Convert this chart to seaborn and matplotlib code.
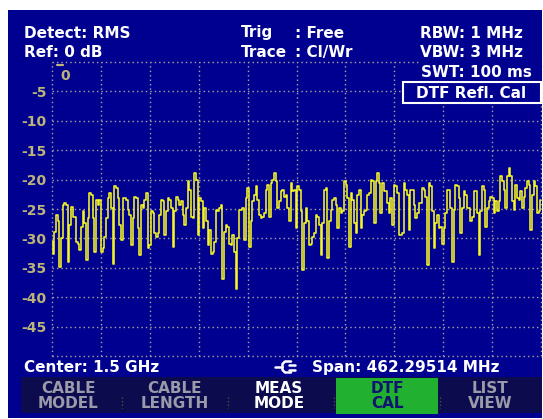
import numpy as np
import pandas as pd
import matplotlib
matplotlib.use("Agg")
import matplotlib.pyplot as plt
import seaborn as sns
from matplotlib.patches import Rectangle
from matplotlib.lines import Line2D

# ---------------- data ----------------
center_mhz = 1500.0
span_mhz = 462.29514
y_ticks = [-50, -45, -40, -35, -30, -25, -20, -15, -10, -5, 0]
y_tick_labels = ["", "-45", "-40", "-35", "-30", "-25", "-20", "-15", "-10", "-5", ""]

level_part1 = [-30.6, -32.6, -28.9, -26.0, -27.1, -34.9, -30.0, -24.3, -24.0, -24.3,
               -34.0, -27.7, -24.6, -26.3, -26.3, -30.6, -30.9, -32.0, -28.0, -25.4,
               -27.4, -33.7, -26.6, -22.3, -22.6, -26.6, -32.3, -23.4, -24.3, -23.4,
               -32.3, -31.7, -29.7, -26.6, -23.1, -22.3, -24.9, -34.3, -21.1, -21.4,
               -23.1, -27.7, -30.3, -23.1, -23.1, -23.4, -25.1, -26.0, -31.1, -26.6,
               -22.9, -23.1, -28.3, -32.9, -24.3, -24.9, -23.4, -22.3]
level_part2 = [-31.7, -31.1, -25.4, -25.7, -29.1, -29.7, -29.1, -26.0, -23.4, -23.7,
               -29.4, -25.4, -23.1, -23.4, -24.9, -31.4, -25.4, -22.9, -23.4, -24.3,
               -23.7, -26.0, -27.7, -24.9, -20.3, -21.7, -26.3, -26.6, -18.9, -20.0,
               -29.4, -23.1, -23.7, -28.3, -24.9, -27.1, -31.1, -28.6, -32.6, -32.3,
               -30.6, -25.1, -25.4, -24.9, -24.3, -36.9, -28.9, -27.7, -28.0, -30.9,
               -31.1, -29.4, -32.3, -38.6, -30.0, -25.1, -25.1, -24.9, -30.3]
level_part3 = [-23.1, -21.4, -31.4, -27.1, -23.7, -22.6, -21.1, -23.4, -26.0, -26.6,
               -26.3, -25.7, -21.7, -20.9, -26.3, -20.6, -20.0, -18.9, -20.3, -24.9,
               -23.7, -22.0, -21.7, -22.9, -22.6, -24.9, -27.1, -20.6, -22.0, -21.7,
               -28.3, -21.1, -21.7, -25.4, -35.4, -27.4, -24.9, -27.1, -31.1, -30.9,
               -29.7, -29.1, -26.0, -26.3, -27.7, -32.9, -27.4, -21.7, -21.4, -33.4,
               -27.1, -25.1, -23.4, -23.1, -24.3, -28.3, -24.9, -25.7, -25.4]
level_part4 = [-20.3, -20.9, -23.1, -31.4, -22.3, -23.4, -27.4, -29.1, -22.6, -21.7,
               -28.3, -26.0, -25.4, -25.1, -22.6, -22.3, -20.0, -20.3, -27.4, -20.3,
               -18.9, -20.6, -25.7, -20.6, -22.0, -22.0, -24.0, -25.7, -23.1, -27.7,
               -20.9, -21.1, -22.3, -29.4, -29.4, -29.1, -20.6, -21.7, -22.6, -28.6,
               -21.7, -21.7, -24.3, -26.6, -25.7, -24.0, -24.0, -21.4, -21.7, -22.9,
               -34.6, -20.6, -21.1, -25.4, -31.7, -27.4, -26.0, -28.3, -28.0]
level_part5 = [-30.9, -28.3, -25.7, -21.7, -21.7, -24.9, -34.0, -25.1, -20.9, -21.1,
               -23.1, -29.1, -24.9, -22.0, -22.6, -24.9, -24.9, -27.1, -26.3, -22.0,
               -22.0, -25.7, -32.9, -25.4, -21.1, -21.7, -28.0, -24.9, -23.7, -22.9,
               -23.1, -25.7, -23.7, -25.4, -23.7, -19.4, -20.3, -21.7, -24.9, -19.4,
               -18.0, -19.4, -23.7, -25.1, -20.9, -23.1, -23.4, -22.0, -24.9, -22.9,
               -21.4, -20.3, -20.9, -28.6, -22.6, -20.3, -21.1, -25.7, -25.4, -23.4]
level_db = level_part1 + level_part2 + level_part3 + level_part4 + level_part5

f_start = center_mhz - span_mhz / 2
f_stop = center_mhz + span_mhz / 2
df = pd.DataFrame({"freq": np.linspace(f_start, f_stop, len(level_db)),
                   "level": level_db})

# ---------------- style ----------------
sns.set_style("dark")
plt.rcParams["font.family"] = ["DejaVu Sans"]

BLUE = "#000090"
GRID = "#a8a8a0"
KHAKI = "#bcb478"
TRACE = "#f6f626"
BAR = "#0b0b4e"
GREEN = "#22b030"
GHOST = "#9a9aaa"

W, H = 543, 419
fig = plt.figure(figsize=(W / 100, H / 100), dpi=100, facecolor="white")


def fx(x):
    return x / W


def fy(y):
    return 1 - y / H


def frect(x0, y0, x1, y1, **kw):
    r = Rectangle((fx(x0), fy(y1)), (x1 - x0) / W, (y1 - y0) / H,
                  transform=fig.transFigure, **kw)
    fig.add_artist(r)
    return r


def ftext(x, y, s, **kw):
    base = dict(color="white", fontsize=11, fontweight="bold", va="center", ha="left")
    base.update(kw)
    fig.text(fx(x), fy(y), s, **base)


# blue screen background
bg = Rectangle((fx(8), fy(418)), (542 - 8) / W, (418 - 10) / H,
               transform=fig.transFigure, facecolor=BLUE, edgecolor="none", zorder=-10)
fig.patches.append(bg)

ax = fig.add_axes([fx(52), fy(356), 489 / W, 294 / H])
ax.set_facecolor(BLUE)

sns.lineplot(data=df, x="freq", y="level", ax=ax, color=TRACE, linewidth=1.15,
             drawstyle="steps-mid", estimator=None, zorder=3)

ax.set_xlim(f_start, f_stop)
ax.set_ylim(-50, 0)
ax.set_xticks(np.linspace(f_start, f_stop, 11))
ax.set_xticklabels([])
ax.set_yticks(y_ticks)
ax.set_yticklabels(y_tick_labels)
ax.tick_params(axis="both", length=0)
ax.tick_params(axis="y", pad=4, labelcolor=KHAKI, labelsize=10)
for lab in ax.get_yticklabels():
    lab.set_fontweight("bold")
ax.set_xlabel("")
ax.set_ylabel("")
for s in ax.spines.values():
    s.set_visible(False)
ax.grid(True, color=GRID, linestyle=(0, (1, 2.2)), linewidth=1.0)
for gl in ax.get_xgridlines() + ax.get_ygridlines():
    gl.set_clip_on(False)

# reference level "0" label inside the grid
ax.text(0.018, 0.975, "0", transform=ax.transAxes, color=KHAKI, fontsize=10,
        fontweight="bold", ha="left", va="top")
ax.add_line(Line2D([0.011, 0.022], [0.990, 0.990], transform=ax.transAxes,
                   color=KHAKI, linewidth=1.6))

# blank region of the top-right header + DTF box
frect(419, 59, 542, 104, facecolor=BLUE, edgecolor="none", zorder=5)
frect(402.5, 82, 540.5, 103.5, facecolor=BLUE, edgecolor="white", linewidth=1.5, zorder=6)
ftext(471, 93, "DTF Refl. Cal", ha="center", zorder=7)

# header texts
ftext(24, 33, "Detect: RMS")
ftext(24, 52.5, "Ref: 0 dB")
ftext(241, 33, "Trig")
ftext(295, 33, ": Free")
ftext(241, 52.5, "Trace")
ftext(295, 52.5, ": Cl/Wr")
ftext(420, 33, "RBW: 1 MHz")
ftext(420, 52.5, "VBW: 3 MHz")
ftext(421, 72.5, "SWT: 100 ms", zorder=7)

# footer texts
ftext(24, 367, "Center: 1.5 GHz")
ftext(312, 367, "Span: 462.29514 MHz")
# plug symbol
plug = [([275, 282], [367, 367]),
        ([291, 285, 282.5, 282.5, 285, 291], [361.5, 361.5, 364, 370, 372.5, 372.5]),
        ([289, 295], [364.5, 364.5]),
        ([289, 295], [369.5, 369.5])]
for xs, ys in plug:
    fig.add_artist(Line2D([fx(v) for v in xs], [fy(v) for v in ys],
                          transform=fig.transFigure, color="white", linewidth=1.8))

# softkey bar
frect(21, 377, 542, 413, facecolor=BAR, edgecolor="none", zorder=1)
frect(336, 378, 438, 414, facecolor=GREEN, edgecolor="none", zorder=2)
keys = [(68, "CABLE", "MODEL", GHOST),
        (175, "CABLE", "LENGTH", GHOST),
        (279, "MEAS", "MODE", "white"),
        (387, "DTF", "CAL", "#0c1470"),
        (490, "LIST", "VIEW", GHOST)]
for cx, l1, l2, col in keys:
    ftext(cx, 388, l1, ha="center", color=col, zorder=3)
    ftext(cx, 403.5, l2, ha="center", color=col, zorder=3)
for sx in [122, 228, 334, 440]:
    fig.add_artist(Line2D([fx(sx), fx(sx)], [fy(397), fy(408)], transform=fig.transFigure,
                          color="#3a5a3a", linewidth=1.0, linestyle=(0, (1, 1.5)), zorder=3))

fig.savefig("out.png", dpi=100, facecolor="white")
